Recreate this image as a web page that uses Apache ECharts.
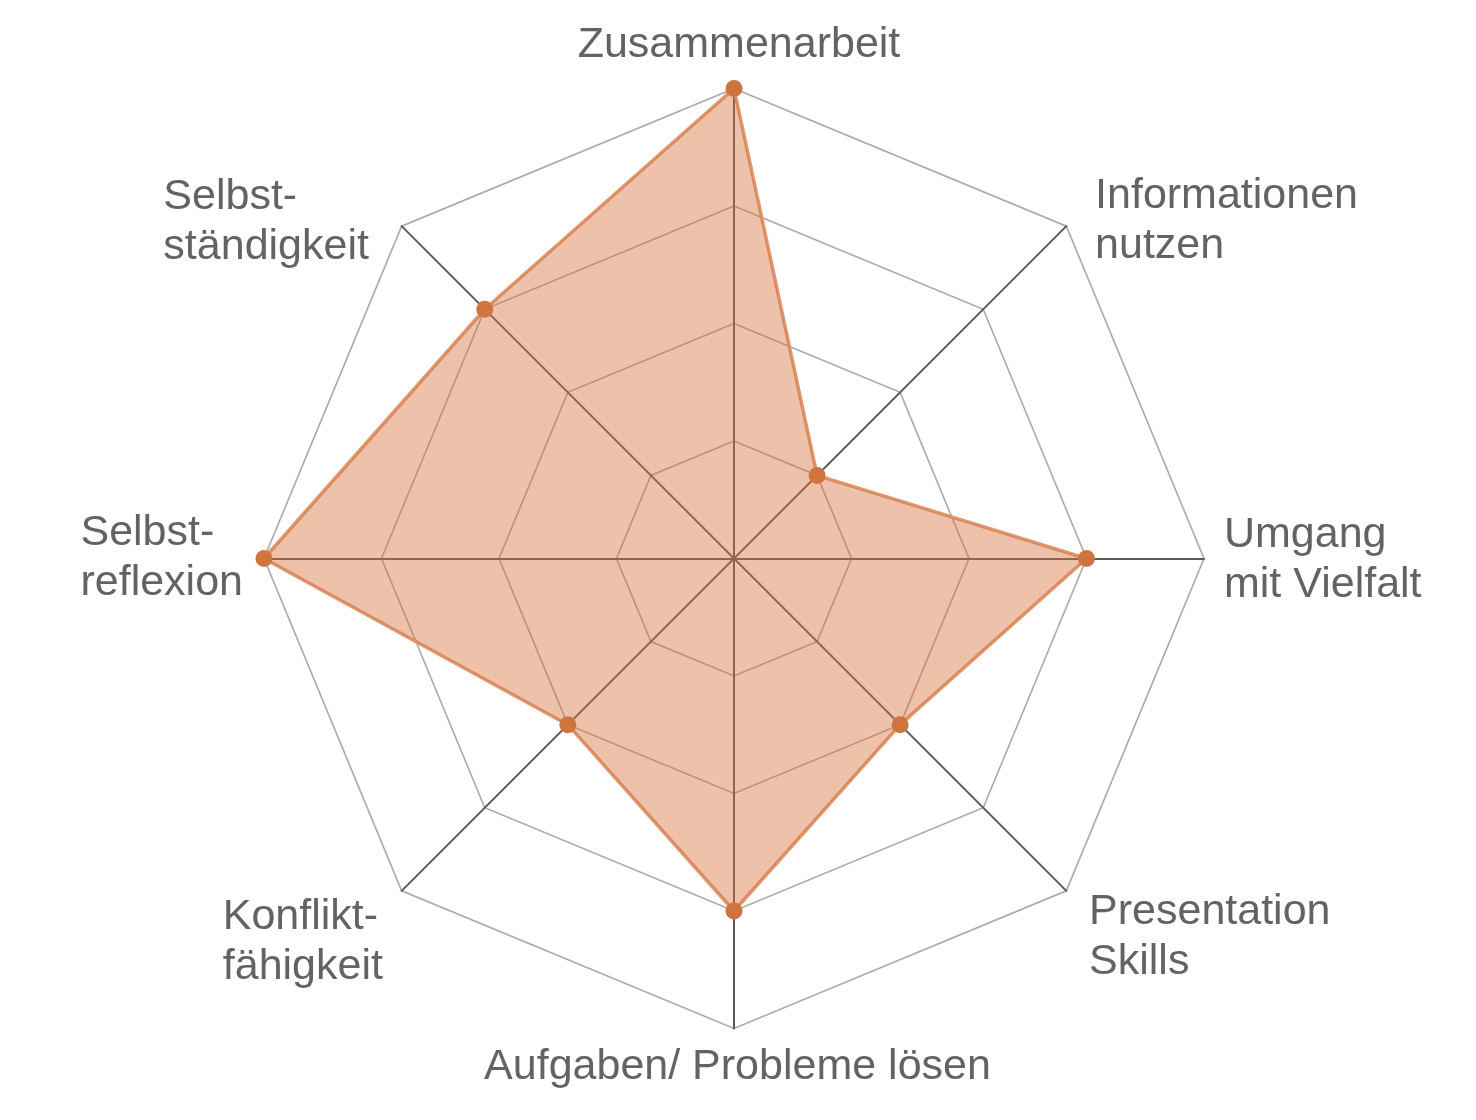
<!DOCTYPE html>
<html>
<head>
<meta charset="utf-8">
<script src="https://cdn.jsdelivr.net/npm/echarts@6/dist/echarts.min.js"></script>
<style>
html, body { margin: 0; padding: 0; background: #ffffff; }
#chart { width: 1476px; height: 1120px; }
</style>
</head>
<body>
<div id="chart"></div>
<script>
// Categories in clockwise order starting at the top
const categories = [
  'Zusammenarbeit',
  'Informationen\nnutzen',
  'Umgang\nmit Vielfalt',
  'Presentation\nSkills',
  'Aufgaben/ Probleme lösen',
  'Konflikt-\nfähigkeit',
  'Selbst-\nreflexion',
  'Selbst-\nständigkeit'
];
const values = [4, 1, 3, 2, 3, 2, 4, 3];
const scaleMax = 4;

// per-label fine offsets [dx, dy] in px (label placement tweak)
const labelShift = [
  [5, 0], [16, 7.5], [2, 1.5], [10, 33.5], [3.5, -4.5], [-6, 39], [-3, 0], [-20, 9]
];

const FONT = '"Liberation Sans", Arial, Helvetica, sans-serif';
const TEXT_COLOR = '#636363';
const FONT_SIZE = 43;
const LINE_H = 50;

// ECharts radar places indicators counter-clockwise; reorder to get clockwise layout
const order = [0].concat(categories.map((_, i) => i).slice(1).reverse());
const indicators = order.map(i => ({ name: categories[i], max: scaleMax, min: 0, color: TEXT_COLOR }));
const seriesValues = order.map(i => values[i]);

// Build rich styles per label to fine-tune placement and keep lines left-aligned
const rich = {};
categories.forEach((c, i) => {
  const [dx, dy] = labelShift[i];
  // determine side: angle of clockwise index i
  const ang = Math.PI / 2 - i * 2 * Math.PI / categories.length;
  const cx = Math.cos(ang);
  let pl = 0, pr = 0;
  if (Math.abs(cx) < 1e-6) { // centered label
    if (dx >= 0) pl = 2 * dx; else pr = -2 * dx;
  } else if (cx > 0) { // left-anchored
    if (dx >= 0) pl = dx;
  } else { // right-anchored
    if (dx <= 0) pr = -dx;
  }
  const base = {
    fontSize: FONT_SIZE, fontFamily: FONT, color: TEXT_COLOR, lineHeight: LINE_H, align: 'left'
  };
  const pt = dy > 0 ? 2 * dy : 0;
  const pb = dy < 0 ? -2 * dy : 0;
  rich['s' + i] = Object.assign({}, base, { padding: [pt, pr, pb, pl] });
});

const chart = echarts.init(document.getElementById('chart'), null, { renderer: 'canvas' });
chart.setOption({
  backgroundColor: '#ffffff',
  animation: false,
  radar: {
    center: [734, 558.5],
    radius: 470,
    startAngle: 90,
    splitNumber: 4,
    shape: 'polygon',
    indicator: indicators,
    nameGap: 18,
    axisName: {
      color: TEXT_COLOR,
      fontSize: FONT_SIZE,
      fontFamily: FONT,
      lineHeight: LINE_H,
      formatter: function (name) {
        const i = categories.indexOf(name);
        return name.split('\n').map(l => '{s' + i + '|' + l + '}').join('\n');
      },
      rich: rich
    },
    axisLine: { lineStyle: { color: '#5a5a5a', width: 2 } },
    splitLine: { lineStyle: { color: '#a9a9a9', width: 1.6 } },
    splitArea: { show: false },
    axisTick: { show: false },
    axisLabel: { show: false }
  },
  series: [{
    type: 'radar',
    symbol: 'circle',
    symbolSize: 17,
    itemStyle: { color: '#D0743F' },
    lineStyle: { color: '#DE9970', width: 3.5 },
    areaStyle: { color: 'rgba(217,113,63,0.44)', opacity: 1 },
    data: [{ value: seriesValues, name: 'Kompetenzen' }]
  }]
});
</script>
</body>
</html>
